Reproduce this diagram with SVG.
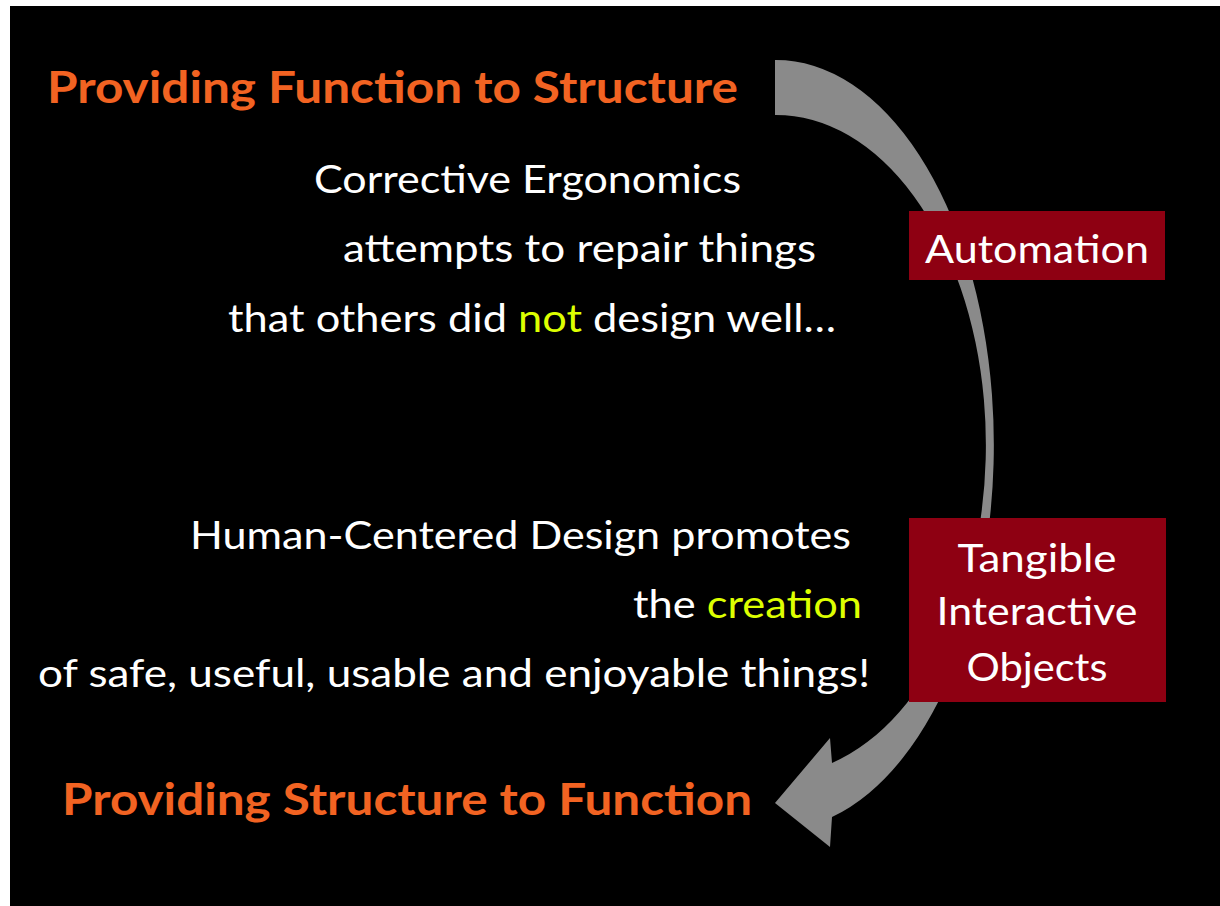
<svg xmlns="http://www.w3.org/2000/svg" width="1220" height="906" viewBox="0 0 1220 906">
<style>
.title{font-family:Lato,"Liberation Sans",sans-serif;font-weight:bold;font-size:44px;fill:#F26322}
.body{font-family:Lato,"Liberation Sans",sans-serif;font-size:39px;fill:#ffffff}
.hl{fill:#DDFF00}
.box{fill:#8E0012}
.boxtext{font-family:Lato,"Liberation Sans",sans-serif;font-size:39px;fill:#ffffff;text-anchor:middle}
.arrow{fill:#8A8A8A}
</style>
<rect x="0" y="0" width="1220" height="906" fill="#ffffff"/>
<rect x="10" y="6" width="1210" height="900" fill="#000000"/>
<g id="connectors">
<path class="arrow" d="M775,60 A218,385 0 0 1 832,817 L830,847 L775,803 L830,738 L832,763 A210,330 0 0 0 775,115 Z"/>
</g>
<g id="title-top">
<text class="title" x="47" y="103" textLength="691" lengthAdjust="spacingAndGlyphs">Providing Function to Structure</text>
</g>
<g id="corrective">
<text class="body" x="314" y="193" textLength="427" lengthAdjust="spacingAndGlyphs">Corrective Ergonomics</text>
<text class="body" x="343" y="262" textLength="473" lengthAdjust="spacingAndGlyphs">attempts to repair things</text>
<text class="body" x="228" y="332" textLength="608" lengthAdjust="spacingAndGlyphs">that others did <tspan class="hl">not</tspan> design well…</text>
</g>
<g id="hcd">
<text class="body" x="190" y="549" textLength="661" lengthAdjust="spacingAndGlyphs">Human-Centered Design promotes</text>
<text class="body" x="633" y="618" textLength="229" lengthAdjust="spacingAndGlyphs">the <tspan class="hl">creation</tspan></text>
<text class="body" x="38" y="687" textLength="832" lengthAdjust="spacingAndGlyphs">of safe, useful, usable and enjoyable things!</text>
</g>
<g id="automation">
<rect class="box" x="909" y="211" width="256" height="69"/>
<text class="boxtext" x="1037" y="263" textLength="224" lengthAdjust="spacingAndGlyphs">Automation</text>
</g>
<g id="tangible">
<rect class="box" x="909" y="518" width="257" height="184"/>
<text class="boxtext" x="1037" y="572" textLength="159" lengthAdjust="spacingAndGlyphs">Tangible</text>
<text class="boxtext" x="1037" y="625" textLength="201" lengthAdjust="spacingAndGlyphs">Interactive</text>
<text class="boxtext" x="1037" y="681" textLength="141" lengthAdjust="spacingAndGlyphs">Objects</text>
</g>
<g id="title-bottom">
<text class="title" x="62" y="815" textLength="690" lengthAdjust="spacingAndGlyphs">Providing Structure to Function</text>
</g>
</svg>
